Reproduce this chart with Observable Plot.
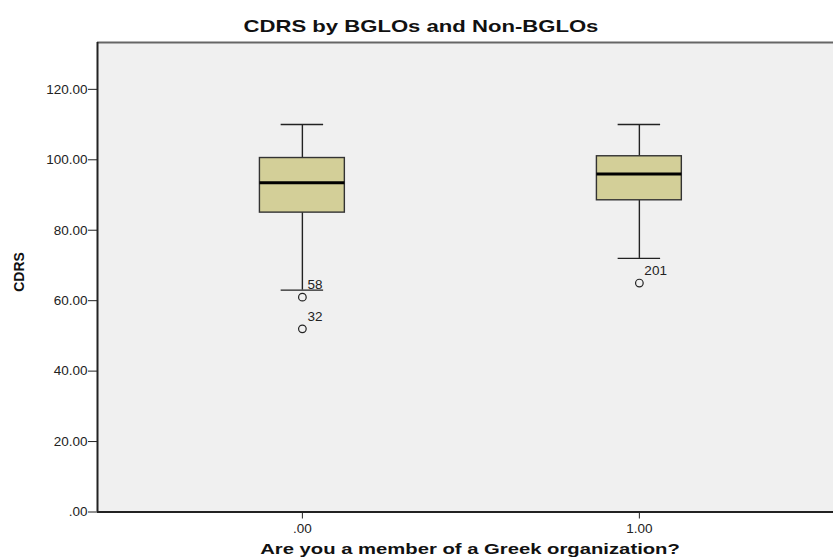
<!DOCTYPE html>
<html>
<head>
<meta charset="utf-8">
<script src="https://cdn.jsdelivr.net/npm/d3@7"></script>
<script src="https://cdn.jsdelivr.net/npm/@observablehq/plot@0.6"></script>
<style>
  html, body { margin: 0; padding: 0; background: #ffffff; overflow: hidden; }
  #wrap { position: relative; width: 833px; height: 560px; overflow: hidden; font-family: "Liberation Sans", Arial, sans-serif; }
  #title { position: absolute; left: 421px; top: 27px; transform: translate(-50%, -50%) scaleX(1.3); font-weight: bold; font-size: 17px; color: #111; white-space: nowrap; }
  #ytitle { position: absolute; left: 19px; top: 272px; transform: translate(-50%, -50%) rotate(-90deg); font-weight: bold; font-size: 14px; color: #111; white-space: nowrap; }
  #xtitle { position: absolute; left: 470px; top: 548px; transform: translate(-50%, -50%) scaleX(1.35); font-weight: bold; font-size: 15px; color: #111; white-space: nowrap; }
  #chart { position: absolute; left: 0; top: 0; }
</style>
</head>
<body>
<div id="wrap">
  <div id="chart"></div>
  <div id="title">CDRS by BGLOs and Non-BGLOs</div>
  <div id="ytitle">CDRS</div>
  <div id="xtitle">Are you a member of a Greek organization?</div>
</div>
<script>
// ---- data ----
const groups = [0, 1];
const groupLabels = [".00", "1.00"];
const whiskerHigh = [110, 110];
const q3 = [100.5, 101];
const median = [93.5, 96];
const q1 = [85, 88.5];
const whiskerLow = [63, 72];
const outlierGroup = [0, 0, 1];
const outlierValue = [61, 52, 65];
const outlierId = ["58", "32", "201"];
const yTicks = [0, 20, 40, 60, 80, 100, 120];

// ---- build tables ----
const boxHalf = 0.126;
const capHalf = 0.063;
const xDomain = [-0.608, 1.582];
const yDomain = [0, 133.3];
const boxes = groups.map((g, i) => ({
  g, lo: whiskerLow[i], q1: q1[i], med: median[i], q3: q3[i], hi: whiskerHigh[i]
}));
const outliers = outlierValue.map((v, i) => ({ g: outlierGroup[i], v, id: outlierId[i] }));

const fmtY = v => d3.format(".2f")(v).replace(/^0\./, ".");
const fmtX = v => groupLabels[groups.indexOf(v)];

const chart = Plot.plot({
  width: 833,
  height: 560,
  marginLeft: 97,
  marginRight: -2,
  marginTop: 42,
  marginBottom: 48.5,
  style: { fontFamily: "Liberation Sans, Arial, sans-serif", fontSize: "13.5px", color: "#222", background: "transparent", overflow: "hidden" },
  x: { type: "linear", domain: xDomain, label: null },
  y: { domain: yDomain, label: null },
  marks: [
    Plot.frame({ fill: "#f0f0f0", stroke: "none" }),
    Plot.ruleY([yDomain[1]], { stroke: "#666", strokeWidth: 2 }),
    // whisker stems
    Plot.ruleX(boxes, { x: "g", y1: "q3", y2: "hi", stroke: "#222", strokeWidth: 1.4 }),
    Plot.ruleX(boxes, { x: "g", y1: "lo", y2: "q1", stroke: "#222", strokeWidth: 1.4 }),
    // whisker caps
    Plot.ruleY(boxes, { y: "hi", x1: d => d.g - capHalf, x2: d => d.g + capHalf, stroke: "#222", strokeWidth: 1.4 }),
    Plot.ruleY(boxes, { y: "lo", x1: d => d.g - capHalf, x2: d => d.g + capHalf, stroke: "#222", strokeWidth: 1.4 }),
    // boxes
    Plot.rect(boxes, { x1: d => d.g - boxHalf, x2: d => d.g + boxHalf, y1: "q1", y2: "q3", fill: "#d3cf98", stroke: "#333", strokeWidth: 1.4 }),
    // medians
    Plot.ruleY(boxes, { y: "med", x1: d => d.g - boxHalf, x2: d => d.g + boxHalf, stroke: "#000", strokeWidth: 3 }),
    // outliers
    Plot.dot(outliers, { x: "g", y: "v", r: 3.8, stroke: "#222", strokeWidth: 1.2, fill: "none" }),
    Plot.text(outliers, { x: "g", y: "v", text: "id", dx: 5, dy: -12, textAnchor: "start", fill: "#222", fontSize: 13.5 }),
    // axes
    Plot.axisY({ ticks: yTicks, tickFormat: fmtY, tickSize: 9, tickPadding: 1, label: null, stroke: "#222", fontSize: 13.5 }),
    Plot.axisX({ ticks: groups, tickFormat: fmtX, tickSize: 7, tickPadding: 4, label: null, stroke: "#222", fontSize: 13.5 }),
    Plot.ruleX([xDomain[0]], { stroke: "#222", strokeWidth: 2 }),
    Plot.ruleY([0], { stroke: "#222", strokeWidth: 2 })
  ]
});
document.getElementById("chart").appendChild(chart);
</script>
</body>
</html>
